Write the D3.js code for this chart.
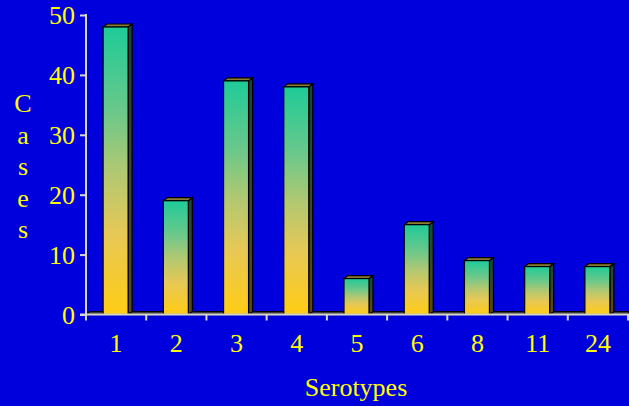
<!DOCTYPE html>
<html>
<head>
<meta charset="utf-8">
<script src="https://cdn.jsdelivr.net/npm/d3@7"></script>
<style>
  html, body { margin: 0; padding: 0; background: #0000dd; }
  svg { display: block; }
  svg text { font-family: "Liberation Serif", "Times New Roman", Times, "Nimbus Roman", "DejaVu Serif", serif !important; fill: #ffff00; }
</style>
</head>
<body>
<svg id="chart" width="629" height="406"></svg>
<script>
// Cases per serotype
const serotypes = ["1", "2", "3", "4", "5", "6", "8", "11", "24"];
const cases = [48, 19, 39, 38, 6, 15, 9, 8, 8];
const yTicks = [0, 10, 20, 30, 40, 50];
const yTitle = ["C", "a", "s", "e", "s"];
const xTitle = "Serotypes";

const W = 629, H = 406;
const svg = d3.select("#chart");
const axisColor = "#d8d8c4";
const depthX = 4, depthY = 3;

svg.append("rect").attr("width", W).attr("height", H).attr("fill", "#0000dd");

const x = d3.scaleBand().domain(serotypes).range([86, 628]).padding(0);
const y = d3.scaleLinear().domain([0, 50]).range([314.5, 15]);

// gradient for the bar fronts (teal at top, gold at bottom)
const defs = svg.append("defs");
const front = defs.append("linearGradient").attr("id", "front")
  .attr("x1", 0).attr("y1", 0).attr("x2", 0).attr("y2", 1);
[[0, "#1ecb98"], [0.3, "#6cc88a"], [0.5, "#b0c872"], [0.72, "#e6c856"], [1, "#ffcc14"]]
  .forEach(([o, c]) => front.append("stop").attr("offset", o).attr("stop-color", c));
const side = defs.append("linearGradient").attr("id", "side")
  .attr("x1", 0).attr("y1", 0).attr("x2", 0).attr("y2", 1);
[[0, "#104a38"], [0.5, "#40482a"], [1, "#5e4c0a"]]
  .forEach(([o, c]) => side.append("stop").attr("offset", o).attr("stop-color", c));

// floor strip behind the bars
const y0 = y(0);
svg.append("polygon")
  .attr("points", [[86, y0], [86 + depthX, y0 - depthY], [W, y0 - depthY], [W, y0]].join(" "))
  .attr("fill", "#3a3a3a").attr("stroke", "#000").attr("stroke-width", 1);

// bars with side and top faces
const bw = x.bandwidth() * 0.415;
const bars = svg.append("g").selectAll("g").data(serotypes.map((s, i) => ({ s, v: cases[i] })))
  .join("g");
bars.each(function (d) {
  const g = d3.select(this);
  const cx = x(d.s) + x.bandwidth() / 2 - 0.5;
  const x0 = cx - bw / 2, x1 = cx + bw / 2;
  const top = y(d.v);
  g.append("polygon")
    .attr("points", [[x1, top], [x1 + depthX, top - depthY], [x1 + depthX, y0 - depthY], [x1, y0]].join(" "))
    .attr("fill", "url(#side)").attr("stroke", "#000").attr("stroke-width", 1.2);
  g.append("polygon")
    .attr("points", [[x0, top], [x0 + depthX, top - depthY], [x1 + depthX, top - depthY], [x1, top]].join(" "))
    .attr("fill", "#8c7c34").attr("stroke", "#000").attr("stroke-width", 1.2);
  g.append("rect")
    .attr("x", x0).attr("y", top).attr("width", bw).attr("height", y0 - top)
    .attr("fill", "url(#front)").attr("stroke", "#000").attr("stroke-width", 1.2);
});

const serif = "'Liberation Serif', 'Times New Roman', Times, 'DejaVu Serif', serif";

// y axis
const yAxis = svg.append("g").attr("transform", "translate(86,0)")
  .call(d3.axisLeft(y).tickValues(yTicks).tickSize(6).tickPadding(5).tickSizeOuter(0))
  .attr("font-family", serif);
yAxis.select(".domain").remove();
yAxis.selectAll(".tick line").attr("stroke", axisColor).attr("stroke-width", 2);
yAxis.selectAll(".tick text").attr("font-size", 26).attr("fill", "#ffff00")
  .attr("font-family", serif).attr("dy", "0.34em");
svg.append("line").attr("x1", 86).attr("x2", 86).attr("y1", y(50) - 1).attr("y2", y0 + 6)
  .attr("stroke", axisColor).attr("stroke-width", 2);

// x axis: line, boundary ticks, centred labels
svg.append("line").attr("x1", 80).attr("x2", W).attr("y1", y0).attr("y2", y0)
  .attr("stroke", axisColor).attr("stroke-width", 2);
const xAxis = svg.append("g").attr("transform", `translate(0,${y0})`)
  .call(d3.axisBottom(x).tickSize(0).tickPadding(19).tickSizeOuter(0))
  .attr("font-family", serif);
xAxis.select(".domain").remove();
xAxis.selectAll(".tick text").attr("font-size", 26).attr("fill", "#ffff00")
  .attr("font-family", serif).attr("dy", "0.71em");
svg.append("g").selectAll("line").data(serotypes)
  .join("line")
  .attr("x1", d => x(d) + x.bandwidth())
  .attr("x2", d => x(d) + x.bandwidth())
  .attr("y1", y0).attr("y2", y0 + 6)
  .attr("stroke", axisColor).attr("stroke-width", 2);

// axis titles
svg.append("g").attr("font-family", serif).selectAll("text").data(yTitle).join("text")
  .attr("x", 23).attr("y", (d, i) => 112 + i * 31.5)
  .attr("text-anchor", "middle").attr("font-size", 26).text(d => d);
svg.append("text").attr("font-family", serif).attr("x", 356).attr("y", 396).attr("text-anchor", "middle")
  .attr("font-size", 26).text(xTitle);
</script>
</body>
</html>
